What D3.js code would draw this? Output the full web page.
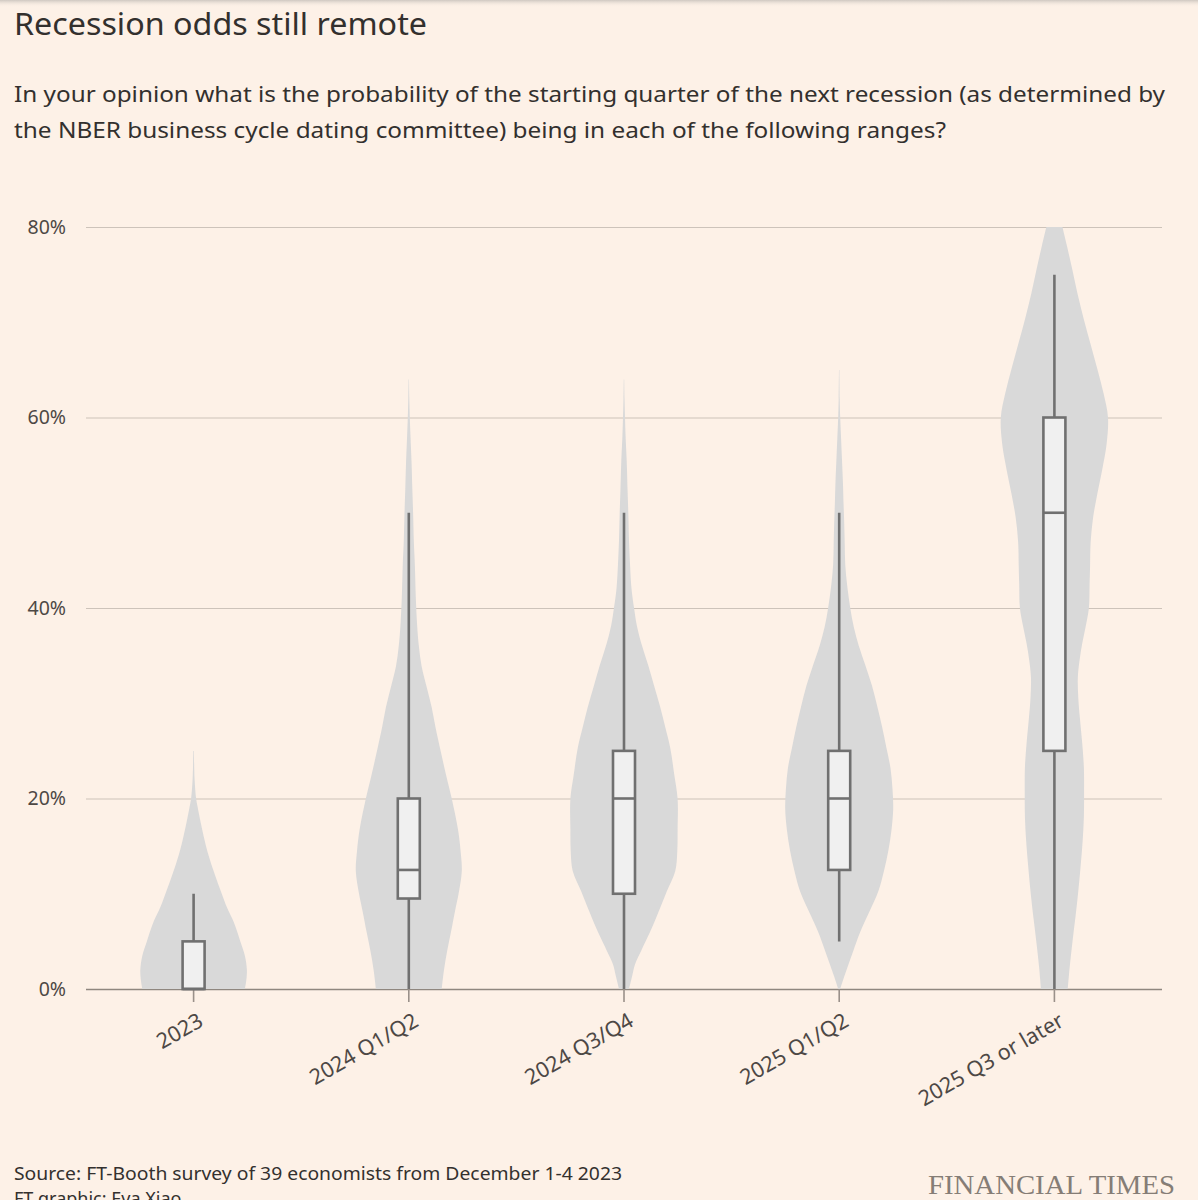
<!DOCTYPE html>
<html><head><meta charset="utf-8">
<script src="https://cdn.jsdelivr.net/npm/d3@7"></script>
<style>
html,body{margin:0;padding:0;background:#fdf1e7;}
svg{display:block;font-family:"Noto Sans",sans-serif;}
</style></head>
<body>
<svg id="chart" width="1198" height="1200"></svg>
<script>
// ---------- DATA ----------
const categories = ["2023","2024 Q1/Q2","2024 Q3/Q4","2025 Q1/Q2","2025 Q3 or later"];
const yTicks = [0,20,40,60,80];
const yTickLabels = ["0%","20%","40%","60%","80%"];

// box plot statistics (%)
const whiskerLow  = [0, 0, 0, 5, 0];
const quartile1   = [0, 9.5, 10, 12.5, 25];
const medians     = [0, 12.5, 20, 20, 50];
const quartile3   = [5, 20, 25, 25, 60];
const whiskerHigh = [10, 50, 50, 50, 75];

// violin density profiles (relative density at each level, %)
const levels2023  = [0,1,2,3.5,5,7,8.6,10,12.2,14,15.6,17.5,19.1,20,22,25];
const density2023 = [51,52.5,53,51,46.5,40,33,28,20.5,15,11,7,4,2.5,1,0.3];

const levels2024H1  = [0,2,3.9,6,8.2,10,12.4,14.5,16.7,20,22.5,25.3,27.5,29.6,31.8,33.9,36,38.2,41,44.6,47,49.9,52.5,55.4,58,60,62,64];
const density2024H1 = [32.7,35,38,42,46,49.5,52.7,51.5,49,42.7,37,31,26.5,22.7,17.5,12.7,10,8.3,7,6,5,4.3,3.5,2.7,1.7,1,0.5,0.2];

const levels2024H2  = [0,1.3,2.6,4,6,8,10.3,12.4,14.5,16.7,20,22.5,25.3,27.5,29.6,31.8,33.9,36,38.2,40,42,44.6,47,49.9,52.5,55.4,58,60,62,64];
const density2024H2 = [5,8,11,17,26,34,42.7,51,53,53.3,53.3,50,46,41,36,30,24.3,18,12.7,10,7.5,6,5,4.3,3.5,2.7,1.6,1,0.5,0.2];

const levels2025H1  = [0,1.3,2.6,4,6,8,10.3,12.4,14.6,16.7,18.9,21,23.2,25.3,27.5,29.6,31.8,34,36.1,38,40,42.3,44.6,46.7,48.9,51,53.2,56,58,60,62,65];
const density2025H1 = [1,5,9.3,14,21,29.5,39,44.5,49,52,53.7,53,51,47,42.7,38,32.7,26,19.3,14.5,11,8,6,5.5,5,4.3,3.7,2.6,1.8,1,0.5,0.2];

const levels2025Later  = [0,2.4,5,7.6,10,12.8,15.4,18,20.6,23.3,26,28.5,30.5,32.7,34.5,36.3,38,40,42.5,44.5,46.8,49.5,52,54.5,57.3,60,62.5,65.1,67.7,70.3,73,75.6,78,80];
const density2025Later = [13.3,15.3,18,21,23.5,26,28,29.3,29.5,29.3,27.5,25.3,23.8,23.3,25,27.7,31,34.3,35,35.5,36,38.5,42.7,47.5,52,53.3,49,42.7,36,29.3,23,17.7,12.5,8];

const violinLevels  = [levels2023, levels2024H1, levels2024H2, levels2025H1, levels2025Later];
const violinDensity = [density2023, density2024H1, density2024H2, density2025H1, density2025Later];

// ---------- CHART ----------
const svg = d3.select("#chart");
const bg = "#fdf1e7";
svg.append("rect").attr("width",1198).attr("height",1200).attr("fill",bg);

// top shadow
const defs = svg.append("defs");
const grad = defs.append("linearGradient").attr("id","topShade").attr("x1",0).attr("x2",0).attr("y1",0).attr("y2",1);
grad.append("stop").attr("offset","0%").attr("stop-color","#cfc8c1");
grad.append("stop").attr("offset","100%").attr("stop-color",bg).attr("stop-opacity",0);
svg.append("rect").attr("width",1198).attr("height",7).attr("fill","url(#topShade)");

const plotLeft = 86, plotRight = 1162, plotBottom = 989, plotTop = 227;
const y = d3.scaleLinear().domain([0,80]).range([plotBottom, plotTop]);
const x = d3.scaleBand().domain(categories).range([plotLeft, plotRight]).padding(0);
const allDensity = violinDensity.flat();
const w = d3.scaleLinear().domain([0, d3.max(allDensity)]).range([0, 54]);

// Title & subtitle
svg.append("text").attr("x",14).attr("y",35).attr("font-size",31).attr("fill","#33302e")
  .attr("textLength",413).attr("lengthAdjust","spacingAndGlyphs")
  .text("Recession odds still remote");
svg.append("text").attr("x",14).attr("y",102).attr("font-size",22).attr("fill","#33302e")
  .attr("textLength",1151).attr("lengthAdjust","spacingAndGlyphs")
  .text("In your opinion what is the probability of the starting quarter of the next recession (as determined by");
svg.append("text").attr("x",14).attr("y",138).attr("font-size",22).attr("fill","#33302e")
  .attr("textLength",932).attr("lengthAdjust","spacingAndGlyphs")
  .text("the NBER business cycle dating committee) being in each of the following ranges?");

// Y axis with gridlines
const yAxis = svg.append("g").attr("transform",`translate(${plotRight},0)`)
  .call(d3.axisLeft(y).tickValues(yTicks).tickSize(plotRight-plotLeft).tickPadding(20)
    .tickFormat((d,i)=>yTickLabels[i]));
yAxis.select(".domain").remove();
yAxis.selectAll(".tick line").attr("stroke",d=>d===0?"#8f877f":"#cdc3ba").attr("stroke-width",d=>d===0?1.6:1.2);
yAxis.selectAll(".tick text").attr("font-size",19.5).attr("fill","#4d4845").attr("font-family","Noto Sans");

// X axis
const xAxis = svg.append("g").attr("transform",`translate(0,${plotBottom})`)
  .call(d3.axisBottom(x).tickSize(13).tickPadding(4));
xAxis.select(".domain").remove();
xAxis.selectAll(".tick line").attr("stroke","#9a918a").attr("stroke-width",1.6);
xAxis.selectAll(".tick text")
  .attr("font-size",21.5).attr("fill","#4d4845").attr("font-family","Noto Sans")
  .attr("text-anchor","end").attr("y",0).attr("dy",0)
  .attr("transform","translate(11,36) rotate(-30)");

// Violins
const violinG = svg.append("g");
categories.forEach((c,i)=>{
  const cx = x(c) + x.bandwidth()/2;
  const pts = violinLevels[i].map((lv,j)=>({lv, d: violinDensity[i][j]}));
  const area = d3.area()
    .y(p=>y(p.lv))
    .x0(p=>cx - w(p.d))
    .x1(p=>cx + w(p.d))
    .curve(d3.curveCatmullRom);
  violinG.append("path").datum(pts).attr("d",area).attr("fill","#d9d9d9");
});

// Box plots
const boxHalf = 11;
const boxG = svg.append("g");
categories.forEach((c,i)=>{
  const cx = x(c) + x.bandwidth()/2;
  boxG.append("line").attr("x1",cx).attr("x2",cx)
    .attr("y1",y(whiskerLow[i])).attr("y2",y(whiskerHigh[i]))
    .attr("stroke","#707070").attr("stroke-width",2.6);
  boxG.append("rect").attr("x",cx-boxHalf).attr("width",boxHalf*2)
    .attr("y",y(quartile3[i])).attr("height",y(quartile1[i])-y(quartile3[i]))
    .attr("fill","#f0f0f0").attr("stroke","#707070").attr("stroke-width",2.6);
  boxG.append("line").attr("x1",cx-boxHalf).attr("x2",cx+boxHalf)
    .attr("y1",y(medians[i])).attr("y2",y(medians[i]))
    .attr("stroke","#707070").attr("stroke-width",2.6);
});

// Footer
svg.append("text").attr("x",14).attr("y",1180).attr("font-size",18).attr("fill","#33302e")
  .attr("textLength",608).attr("lengthAdjust","spacingAndGlyphs")
  .text("Source: FT-Booth survey of 39 economists from December 1-4 2023");
svg.append("text").attr("x",14).attr("y",1205).attr("font-size",18).attr("fill","#33302e")
  .text("FT graphic: Eva Xiao");
svg.append("text").attr("x",1175).attr("y",1194).attr("font-size",27).attr("text-anchor","end")
  .attr("fill","#857d76").attr("font-family","Liberation Serif")
  .attr("textLength",247).attr("lengthAdjust","spacingAndGlyphs")
  .text("FINANCIAL TIMES");
</script>
</body></html>
